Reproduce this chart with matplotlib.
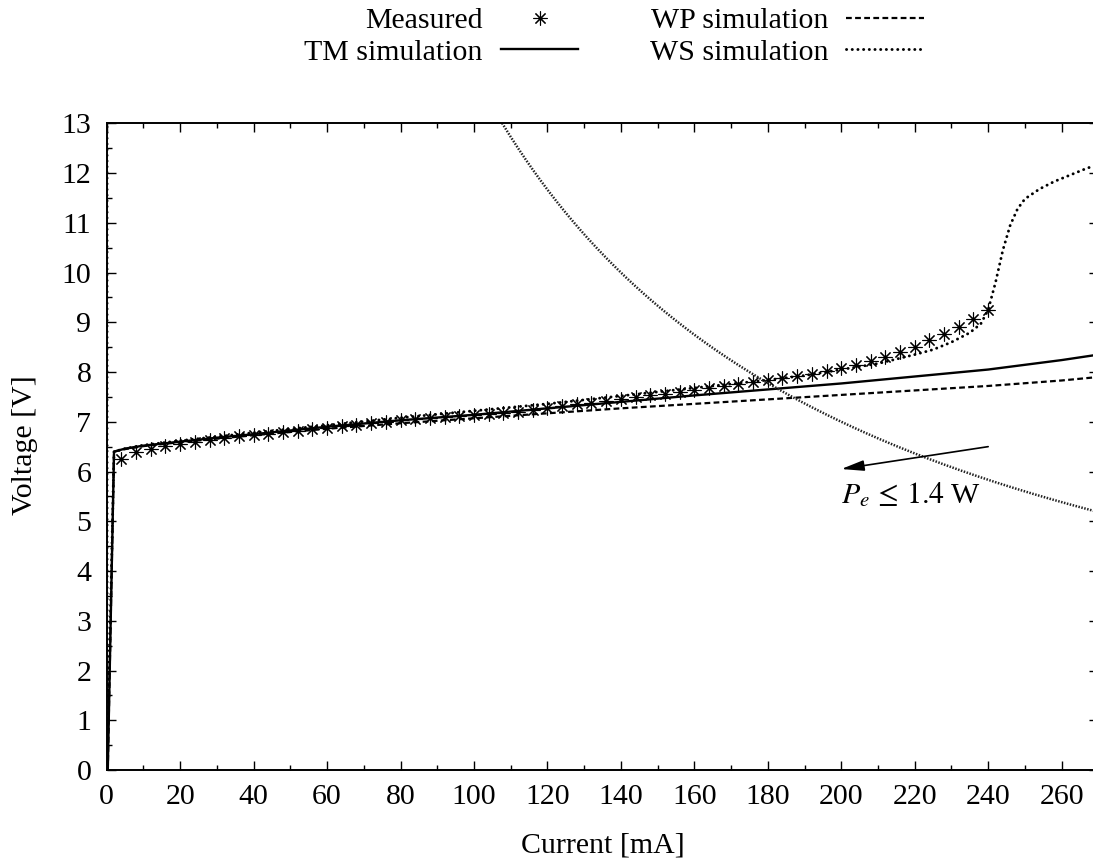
import numpy as np
import matplotlib
matplotlib.use("Agg")
import matplotlib.pyplot as plt
from matplotlib.ticker import MultipleLocator

plt.rcParams["font.family"] = ["Liberation Serif", "DejaVu Serif"]
plt.rcParams["mathtext.fontset"] = "stix"
plt.rcParams["font.size"] = 21.5

# Measured I-V characteristic (current in mA, voltage in V)
meas_current = list(range(4, 244, 4))
meas_voltage = [6.25, 6.39, 6.46, 6.51, 6.55, 6.60, 6.64, 6.67, 6.71, 6.73,
                6.76, 6.79, 6.82, 6.85, 6.88, 6.91, 6.94, 6.97, 7.00, 7.03,
                7.06, 7.08, 7.10, 7.12, 7.13, 7.15, 7.18, 7.20, 7.23, 7.27,
                7.31, 7.35, 7.38, 7.41, 7.46, 7.50, 7.53, 7.56, 7.60, 7.64,
                7.68, 7.72, 7.76, 7.80, 7.84, 7.87, 7.92, 7.96, 8.03, 8.09,
                8.15, 8.22, 8.31, 8.40, 8.51, 8.64, 8.76, 8.90, 9.06, 9.24]

# TM model
tm_current = [0.3, 2.0, 5, 10, 20, 30, 40, 60, 80, 100, 120, 140, 160, 180,
              200, 220, 240, 260, 270]
tm_voltage = [0.0, 6.40, 6.46, 6.52, 6.60, 6.68, 6.75, 6.90, 7.03, 7.14, 7.27,
              7.40, 7.53, 7.65, 7.77, 7.91, 8.05, 8.24, 8.35]

# WP model
wp_current = [0.3, 2.0, 5, 10, 20, 30, 40, 60, 80, 100, 120, 140, 160, 180,
              200, 220, 240, 260, 270]
wp_voltage = [0.0, 6.40, 6.45, 6.51, 6.59, 6.66, 6.73, 6.86, 6.97, 7.07, 7.17,
              7.27, 7.36, 7.45, 7.54, 7.63, 7.72, 7.83, 7.90]

# WS model
ws_current = [0.1, 0.1, 2.0, 5, 10, 20, 40, 60, 80, 100, 120, 140, 160, 180,
              190, 200, 210, 220, 225, 230, 235, 238, 240, 242, 244, 246, 248,
              250, 254, 258, 262, 266, 270]
ws_voltage = [13.5, 0.0, 6.40, 6.46, 6.53, 6.62, 6.78, 6.93, 7.08, 7.22, 7.36,
              7.52, 7.68, 7.84, 7.93, 8.05, 8.17, 8.35, 8.45, 8.60, 8.79, 8.97,
              9.25, 9.80, 10.45, 10.95, 11.28, 11.48, 11.68, 11.83, 11.95,
              12.07, 12.18]

# Electrical power limit P_e = I * V
power_limit_w = 1.4
limit_current = np.linspace(100, 270, 400)
limit_voltage = power_limit_w * 1000.0 / limit_current

x_ticks = list(range(0, 261, 20))
y_ticks = list(range(0, 14))

fig = plt.figure(figsize=(10.93, 8.61), dpi=100)
ax = fig.add_axes([0.0976, 0.1057, 0.9073, 0.7511])

ax.plot(meas_current, meas_voltage, linestyle="none", marker=(8, 2, 0),
        markersize=10, markeredgewidth=0.8, color="black", label="Measured")
ax.plot(tm_current, tm_voltage, color="black", lw=1.7, label="TM simulation")
ax.plot(wp_current, wp_voltage, color="black", lw=1.6,
        linestyle=(0, (2.6, 1.5)), label="WP simulation")
ax.plot(ws_current, ws_voltage, color="black", lw=2.1,
        linestyle=(0, (0.05, 1.9)), dash_capstyle="round",
        label="WS simulation")
ax.plot(limit_current, limit_voltage, color="#222222", lw=1.8,
        linestyle=(0, (0.6, 0.6)))

ax.annotate("", xy=(200, 6.05), xytext=(240, 6.5),
            arrowprops=dict(arrowstyle="-|>,head_length=1.37,head_width=0.32",
                            mutation_scale=10, color="black", lw=1.2,
                            shrinkA=0, shrinkB=0))
ax.text(199.8, 5.37, r"$P_e\,\leq\,1.4$ W", ha="left", va="baseline")

ax.set_xlim(0, 270)
ax.set_ylim(0, 13)
ax.set_xticks(x_ticks)
ax.set_yticks(y_ticks)
ax.xaxis.set_minor_locator(MultipleLocator(10))
ax.yaxis.set_minor_locator(MultipleLocator(0.5))
ax.tick_params(which="both", direction="in", top=True, right=True, width=1.0)
ax.tick_params(which="major", length=6.5)
ax.tick_params(axis="x", which="major", pad=10)
ax.tick_params(axis="y", which="major", pad=11)
ax.tick_params(which="minor", length=3.6)
for s in ax.spines.values():
    s.set_linewidth(1.4)

ax.set_xlabel("Current [mA]", va="baseline")
ax.xaxis.set_label_coords(0.5, -0.127)
ax.set_ylabel("Voltage [V]", va="center")
ax.yaxis.set_label_coords(-0.0824, 0.503)

ax.legend(ncol=2, markerfirst=False, frameon=False, loc="center",
          bbox_to_anchor=(0.562, 0.9575), bbox_transform=fig.transFigure,
          handlelength=2.6, handletextpad=0.6, columnspacing=2.4,
          labelspacing=0.15, borderpad=0, numpoints=1)

fig.savefig("out.png", dpi=100)
